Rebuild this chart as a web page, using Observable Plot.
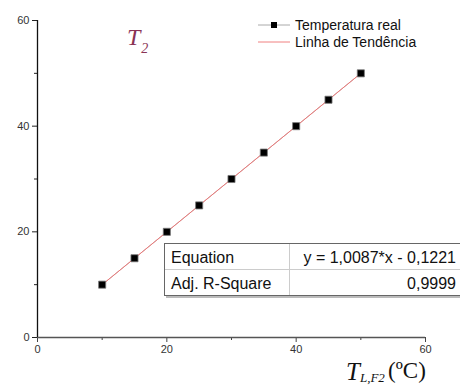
<!DOCTYPE html>
<html>
<head>
<meta charset="utf-8">
<script src="https://cdn.jsdelivr.net/npm/d3@7"></script>
<script src="https://cdn.jsdelivr.net/npm/@observablehq/plot@0.6"></script>
<style>
  html, body { margin: 0; padding: 0; background: #fff; }
  #chart { position: relative; width: 460px; height: 385px; overflow: hidden; }
</style>
</head>
<body>
<div id="chart"></div>
<script>
// Data
const tempX = [10, 15, 20, 25, 30, 35, 40, 45, 50];
const tempY = [10, 15, 20, 25, 30, 35, 40, 45, 50];
const trendX = [10, 50];
const trendY = [10, 50];
const majorTicks = [0, 20, 40, 60];
const minorTicks = [10, 30, 50];
const seriesNames = ["Temperatura real", "Linha de Tendência"];
const tableLabels = ["Equation", "Adj. R-Square"];
const tableValues = ["y = 1,0087*x - 0,1221", "0,9999"];
const titleMain = "T";
const titleSub = "2";
const xLabelMain = "T";
const xLabelSub = "L,F2";
const xLabelUnit = "(ºC)";

const points = tempX.map((x, i) => ({x, y: tempY[i]}));
const trend = trendX.map((x, i) => ({x, y: trendY[i]}));

const font = "'Liberation Sans', Arial, sans-serif";
const serif = "'Liberation Serif', 'Times New Roman', serif";

const plot = Plot.plot({
  width: 460,
  height: 385,
  marginLeft: 37,
  marginRight: 35,
  marginTop: 20,
  marginBottom: 48,
  style: {fontFamily: font, fontSize: "11px", color: "#333", background: "#fff"},
  x: {domain: [0, 60]},
  y: {domain: [0, 60]},
  marks: [
    Plot.axisY({ticks: majorTicks, tickSize: 5, tickPadding: 3, label: null, stroke: "#222", fill: "#333"}),
    Plot.axisY({ticks: minorTicks, tickSize: 3, text: null, label: null, stroke: "#222"}),
    Plot.axisX({ticks: majorTicks, tickSize: 5, tickPadding: 3, label: null, stroke: "#444", fill: "#333"}),
    Plot.axisX({ticks: minorTicks, tickSize: 3, text: null, label: null, stroke: "#444"}),
    Plot.ruleY([0], {stroke: "#555", strokeWidth: 1.3}),
    Plot.ruleX([0], {stroke: "#111", strokeWidth: 1.3}),
    Plot.line(points, {x: "x", y: "y", stroke: "#bbb", strokeWidth: 1}),
    Plot.line(trend, {x: "x", y: "y", stroke: "#e77", strokeWidth: 1}),
    Plot.dot(points, {x: "x", y: "y", symbol: "square", r: 4, fill: "#000", stroke: "#777", strokeWidth: 0.8})
  ]
});

document.getElementById("chart").appendChild(plot);

const svg = d3.select(plot);
const overlay = svg.append("g").attr("text-anchor", "start");

// Title T2
const title = overlay.append("text")
  .attr("x", 127).attr("y", 45)
  .attr("fill", "#8a3355")
  .attr("font-family", serif)
  .attr("font-style", "italic")
  .attr("font-size", 24);
title.append("tspan").text(titleMain);
title.append("tspan").attr("font-size", 14).attr("dy", 8).attr("dx", 1).text(titleSub);

// X label
const xl = overlay.append("text")
  .attr("x", 346).attr("y", 380)
  .attr("fill", "#111")
  .attr("font-family", serif)
  .attr("font-size", 25);
xl.append("tspan").attr("font-style", "italic").text(xLabelMain);
xl.append("tspan").attr("font-style", "italic").attr("font-size", 13).attr("dy", 2).text(xLabelSub);
overlay.append("text")
  .attr("x", 388).attr("y", 378)
  .attr("fill", "#111")
  .attr("font-family", serif)
  .attr("font-size", 23)
  .text(xLabelUnit);

// Legend
const lg = overlay.append("g").attr("font-family", font).attr("font-size", 14).attr("fill", "#111");
lg.append("line").attr("x1", 258).attr("x2", 290).attr("y1", 25).attr("y2", 25).attr("stroke", "#aaa");
lg.append("rect").attr("x", 271).attr("y", 22).attr("width", 6).attr("height", 6).attr("fill", "#000");
lg.append("text").attr("x", 295).attr("y", 30).text(seriesNames[0]);
lg.append("line").attr("x1", 258).attr("x2", 290).attr("y1", 42).attr("y2", 42).attr("stroke", "#f08080");
lg.append("text").attr("x", 295).attr("y", 47).text(seriesNames[1]);

// Table
const tb = overlay.append("g").attr("font-family", font).attr("font-size", 16).attr("fill", "#111");
tb.append("line").attr("x1", 166).attr("x2", 460).attr("y1", 297).attr("y2", 297).attr("stroke", "#bbb").attr("stroke-width", 2);
tb.append("rect").attr("x", 164.5).attr("y", 243.5).attr("width", 300).attr("height", 52)
  .attr("fill", "#fff").attr("stroke", "#666");
tb.append("line").attr("x1", 165).attr("x2", 460).attr("y1", 269.5).attr("y2", 269.5).attr("stroke", "#ccc");
tb.append("line").attr("x1", 289.5).attr("x2", 289.5).attr("y1", 244).attr("y2", 295).attr("stroke", "#ccc");
tableLabels.forEach((t, i) => {
  tb.append("text").attr("x", 171).attr("y", 262.5 + i * 26).text(t);
});
tableValues.forEach((t, i) => {
  tb.append("text").attr("x", 456).attr("y", 262.5 + i * 26).attr("text-anchor", "end").text(t);
});
</script>
</body>
</html>
